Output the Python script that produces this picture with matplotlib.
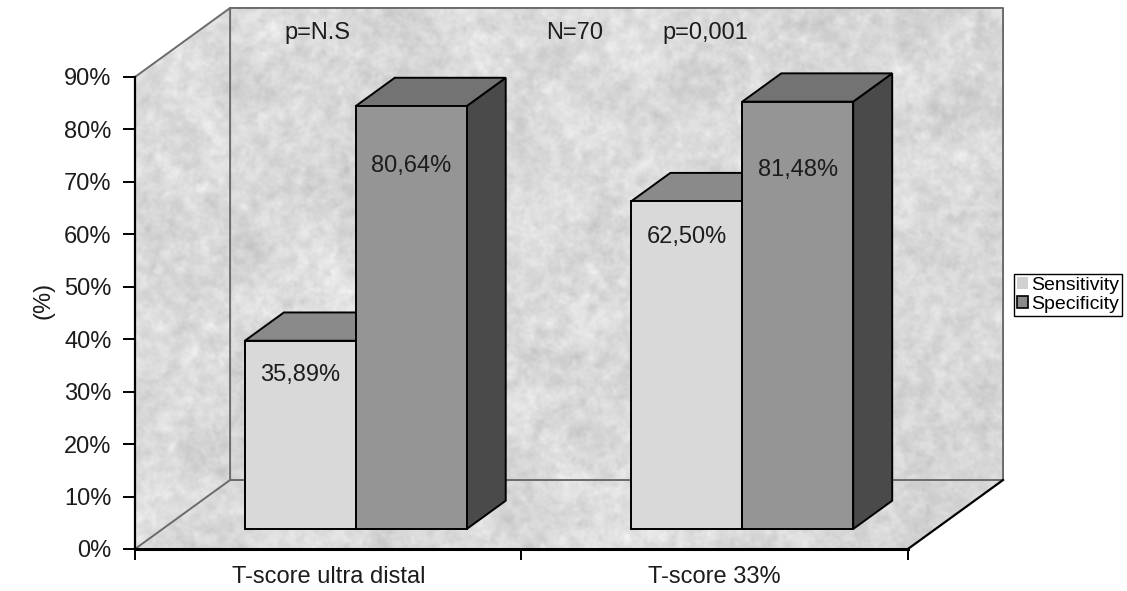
import numpy as np
import matplotlib.pyplot as plt
from matplotlib.patches import Polygon

plt.rcParams['font.family'] = ['Liberation Sans', 'DejaVu Sans']

groups = ['T-score ultra distal', 'T-score 33%']
series = ['Sensitivity', 'Specificity']
sensitivity = [35.89, 62.50]
specificity = [80.64, 81.48]
value_labels = [['35,89%', '62,50%'], ['80,64%', '81,48%']]
yticks = [0, 10, 20, 30, 40, 50, 60, 70, 80, 90]
notes = ['p=N.S', 'N=70', 'p=0,001']

# depth of the fake 3-D box, in data units
DX, DY = 0.246, 13.15
# bars sit between these depth fractions
D0, D1 = 0.29, 0.70
BAR_W = 0.287
# where the value labels sit below each bar top, and where the notes go
label_drop = [[6.5, 6.8], [11.4, 13.0]]
note_x = [0.227, 0.892, 1.229]

front_col = ['#d9d9d9', '#959595']
top_col = ['#8a8a8a', '#737373']
side_col = ['#6a6a6a', '#4a4a4a']
txt_col = '#1c1c1c'
FS = 17

top = yticks[-1]
fig = plt.figure(figsize=(11.27, 5.91), dpi=100)
ax = fig.add_axes([0.1198, 0.0711, 0.7702, 0.9154])


def pt(x, y, d):
    return (x + d * DX, y + d * DY)


def smooth_noise(rng, shape, k):
    a = rng.standard_normal(shape)
    f = np.fft.fft2(a)
    ky = np.fft.fftfreq(shape[0])[:, None]
    kx = np.fft.fftfreq(shape[1])[None, :]
    f *= np.exp(-(kx ** 2 + ky ** 2) * k)
    out = np.real(np.fft.ifft2(f))
    return out / out.std()


# mottled grey texture for the walls
rng = np.random.default_rng(11)
shape = (380, 600)
tex = (0.855 + 0.014 * smooth_noise(rng, shape, 2500)
       + 0.017 * smooth_noise(rng, shape, 120)
       + 0.011 * smooth_noise(rng, shape, 15))
tex = np.clip(tex, 0, 1)

left_wall = [pt(0, 0, 0), pt(0, top, 0), pt(0, top, 1), pt(0, 0, 1)]
floor = [pt(0, 0, 0), pt(2, 0, 0), pt(2, 0, 1), pt(0, 0, 1)]
back_wall = [pt(0, 0, 1), pt(2, 0, 1), pt(2, top, 1), pt(0, top, 1)]

for poly, shade in [(back_wall, 0.0), (left_wall, 0.01), (floor, 0.0)]:
    im = ax.imshow(np.clip(tex + shade, 0, 1), cmap='gray', vmin=0, vmax=1,
                   extent=(0, 2 + DX, 0, top + DY), aspect='auto',
                   origin='lower', zorder=0, interpolation='bilinear')
    im.set_clip_path(Polygon(poly, closed=True, transform=ax.transData))
ax.set_xlim(0, 2 + DX)
ax.set_ylim(0, top + DY)

wall_kw = dict(color='#6b6b6b', lw=1.4, zorder=1, clip_on=False)
ax.plot(*zip(pt(0, top, 0), pt(0, top, 1), pt(2, top, 1), pt(2, 0, 1),
             pt(0, 0, 1), pt(0, top, 1)), **wall_kw)
ax.plot(*zip(pt(0, 0, 0), pt(0, 0, 1)), **wall_kw)
ax.plot(*zip(pt(2, 0, 0), pt(2, 0, 1)), color='black', lw=1.6, zorder=1,
        clip_on=False)


def bar3d(x, w, h, i):
    kw = dict(closed=True, ec='black', lw=1.4, clip_on=False, zorder=3)
    front = [pt(x, 0, D0), pt(x + w, 0, D0), pt(x + w, h, D0), pt(x, h, D0)]
    topf = [pt(x, h, D0), pt(x + w, h, D0), pt(x + w, h, D1), pt(x, h, D1)]
    side = [pt(x + w, 0, D0), pt(x + w, 0, D1), pt(x + w, h, D1),
            pt(x + w, h, D0)]
    ax.add_patch(Polygon(side, fc=side_col[i], **kw))
    ax.add_patch(Polygon(topf, fc=top_col[i], **kw))
    ax.add_patch(Polygon(front, fc=front_col[i], **kw))


for g in range(len(groups)):
    centre = g + 0.5
    for i, vals in enumerate([sensitivity, specificity]):
        x0 = centre - BAR_W + i * BAR_W
        bar3d(x0, BAR_W, vals[g], i)
        lx, ly = pt(x0 + BAR_W / 2, vals[g] - label_drop[i][g], D0)
        ax.text(lx, ly, value_labels[i][g], ha='center', va='center',
                fontsize=FS, color=txt_col, zorder=6)

for nx, s in zip(note_x, notes):
    x, y = pt(nx, top - 4.8, 1)
    ax.text(x, y, s, ha='center', va='center', fontsize=FS,
            color=txt_col, zorder=6)

for s in ['top', 'right']:
    ax.spines[s].set_visible(False)
ax.spines['left'].set_bounds(0, top)
ax.spines['bottom'].set_bounds(0, 2)
ax.spines['left'].set_linewidth(1.6)
ax.spines['bottom'].set_linewidth(2.2)
ax.spines['left'].set_zorder(2)
ax.spines['bottom'].set_zorder(2)

ax.set_yticks(yticks)
ax.set_yticklabels([f'{v}%' for v in yticks])
ax.tick_params(axis='y', length=9, width=1.4, pad=8, labelsize=FS,
               labelcolor=txt_col)
ax.set_xticks([0, 1, 2])
ax.set_xticklabels([])
ax.set_xticks([0.5, 1.5], minor=True)
ax.set_xticklabels(groups, minor=True)
ax.tick_params(axis='x', which='major', length=8, width=1.4)
ax.tick_params(axis='x', which='minor', length=0, pad=12, labelsize=FS,
               labelcolor=txt_col)
fig.text(0.039, 0.492, '(%)', rotation=90, ha='center', va='center',
         fontsize=FS, color=txt_col)

handles = [Polygon([(0, 0)], fc='#d0d0d0', ec='none'),
           Polygon([(0, 0)], fc='#8a8a8a', ec='black', lw=1.2)]
fig.legend(handles, series, loc='center left',
           bbox_to_anchor=(0.9, 0.501), fontsize=14, frameon=True,
           fancybox=False, edgecolor='black', framealpha=1,
           handlelength=0.55, handleheight=0.55, handletextpad=0.15,
           labelspacing=0.1, borderpad=0.15, borderaxespad=0)

fig.savefig('out.png', dpi=100, facecolor='white')
